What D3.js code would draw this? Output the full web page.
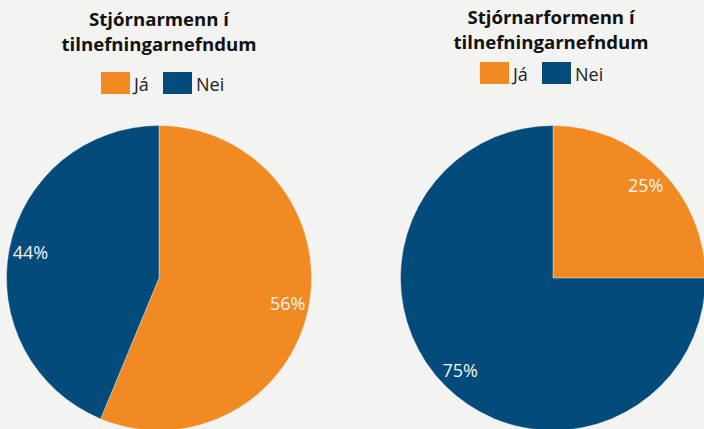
<!DOCTYPE html>
<html lang="is">
<head>
    <meta charset="UTF-8">
    <title>Tilnefningarnefndir</title>
    <style>
        body { margin: 0; background: #f3f3f2; }
        svg { display: block; font-family: "Open Sans", sans-serif; }
    </style>
</head>
<body>

    <div id="graphique"></div>

    <script src="https://d3js.org/d3.v7.min.js"></script>

    <script>

let categories = ['Já', 'Nei'];
let colours    = ['#f28a24', '#034b7b'];

// fjöldi í hverjum hópi
let stjornarmenn    = [9, 7];
let stjornarformenn = [1, 3];

let charts = [
    { title: ['Stjórnarmenn í', 'tilnefningarnefndum'],    values: stjornarmenn,    cx: 159, titleX: 159, titleY: 26, legendX: 101, legendY: 72 },
    { title: ['Stjórnarformenn í', 'tilnefningarnefndum'], values: stjornarformenn, cx: 553, titleX: 551, titleY: 24, legendX: 480, legendY: 62 }
];

let width = 704, height = 429;
let radius = 152.5, cy = 278;

let svg = d3.select('#graphique')
            .append('svg')
            .attr('width', width)
            .attr('height', height);

svg.append('rect')
   .attr('width', width)
   .attr('height', height)
   .attr('fill', '#f3f3f2');

let color = d3.scaleOrdinal()
              .domain(categories)
              .range(colours);

let pie = d3.pie().sort(null).value(function(d){ return d.value });
let arc = d3.arc().innerRadius(0).outerRadius(radius);
let labelArc = d3.arc().innerRadius(radius * 0.86).outerRadius(radius * 0.86);
let pct = d3.format('.0%');

charts.forEach(function(c){

    let data = categories.map(function(k, i){ return { key: k, value: c.values[i] } });
    let total = d3.sum(c.values);

    // titill
    let t = svg.append('text')
               .attr('x', c.titleX)
               .attr('y', c.titleY)
               .attr('text-anchor', 'middle')
               .attr('font-weight', 'bold')
               .attr('font-size', '18.6px')
               .attr('fill', '#111');

    t.selectAll('tspan')
     .data(c.title)
     .enter()
     .append('tspan')
     .attr('x', c.titleX)
     .attr('dy', function(d, i){ return i ? 24.5 : 0 })
     .text(function(d){ return d });

    // skýringar
    let legend = svg.append('g')
                    .attr('transform', `translate(${c.legendX}, ${c.legendY})`);

    let item = legend.selectAll('g')
                     .data(categories)
                     .enter()
                     .append('g')
                     .attr('transform', function(d, i){ return `translate(${i * 62}, 0)` });

    item.append('rect')
        .attr('width', 29)
        .attr('height', 22)
        .attr('fill', function(d){ return color(d) });

    item.append('text')
        .attr('x', 33)
        .attr('y', 18.5)
        .attr('font-size', '18px')
        .attr('fill', '#222')
        .text(function(d){ return d });

    // kakan
    let g = svg.append('g')
               .attr('transform', `translate(${c.cx}, ${cy})`);

    let slices = pie(data);

    g.selectAll('path')
     .data(slices)
     .enter()
     .append('path')
     .attr('d', arc)
     .attr('fill', function(d){ return color(d.data.key) })
     .attr('stroke', '#f3f3f2')
     .attr('stroke-width', 0.4);

    g.selectAll('text')
     .data(slices)
     .enter()
     .append('text')
     .attr('transform', function(d){ return `translate(${labelArc.centroid(d)})` })
     .attr('text-anchor', 'middle')
     .attr('dy', '0.35em')
     .attr('font-size', '18px')
     .attr('fill', '#f4f4f4')
     .text(function(d){ return pct(d.data.value / total) });
});

    </script>
</body>
</html>
